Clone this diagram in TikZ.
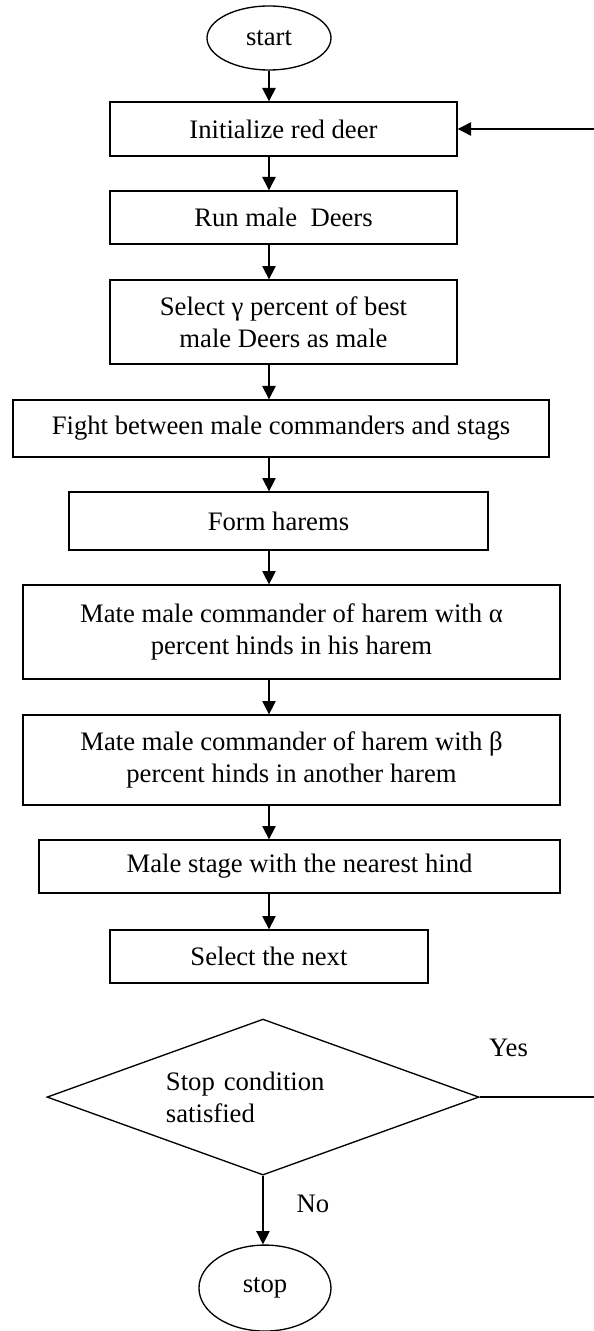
\documentclass[tikz,border=0pt]{standalone}
\usepackage{fontspec}
\setmainfont{Liberation Serif}
\usetikzlibrary{shapes,arrows.meta}
\tikzstyle{block} = [rectangle, draw, text centered, align=center,
    inner sep=2pt, minimum width=156.2pt, minimum height=24pt]
\tikzstyle{term} = [ellipse, draw, inner sep=0pt]
\tikzstyle{decision} = [diamond, draw, shape aspect=2.77, align=left,
    text width=87.3pt, inner sep=0pt, minimum width=194.4pt, minimum height=70.2pt]
\tikzstyle{line} = [draw, -{Triangle[length=6pt, width=6pt]}]

\begin{document}
\begin{tikzpicture}[node distance = 40pt, line width=0.6pt, font=\fontsize{12pt}{14.5pt}\selectfont]
\useasboundingbox (-121.05pt,17.1pt) rectangle (146.25pt,-581.85pt);
\node [term, minimum width=55.8pt, minimum height=28.8pt] (start) {start};
\node [block, below of=start, node distance=40.95pt, xshift=6.53pt, minimum height=24.3pt] (init) {Initialize red deer};
\node [block, below of=init, node distance=39.83pt, minimum height=23.9pt] (run) {Run male~ Deers};
\node [block, below of=run, node distance=47.03pt, minimum height=37.8pt] (sel) {Select γ percent of best\\male Deers as male};
\node [block, below of=sel, node distance=47.93pt, xshift=-1.13pt, minimum width=241.2pt, minimum height=25.7pt] (fight) {Fight between male commanders and stags};
\node [block, below of=fight, node distance=41.63pt, xshift=-1.13pt, minimum width=188.6pt, minimum height=26.1pt] (form) {Form harems};
\node [block, below of=form, node distance=49.95pt, xshift=5.85pt, minimum width=241.7pt, minimum height=42.3pt] (mateA) {Mate male commander of harem with α\\percent hinds in his harem};
\node [block, below of=mateA, node distance=57.6pt, minimum width=241.7pt, minimum height=40.5pt] (mateB) {Mate male commander of harem with β\\percent hinds in another harem};
\node [block, below of=mateB, node distance=47.93pt, xshift=3.6pt, minimum width=234.5pt, minimum height=23.9pt] (male) {Male stage with the nearest hind};
\node [block, below of=male, node distance=40.5pt, xshift=-13.73pt, minimum width=143.1pt, minimum height=23.9pt] (next) {Select the next};
\node [decision, below of=next, node distance=63.23pt, xshift=-2.7pt] (cond) {Stop condition\\satisfied};
\node [term, below of=cond, node distance=85.95pt, xshift=0.9pt, minimum width=59.4pt, minimum height=38.7pt] (stop) {stop};
\node [xshift=13pt, yshift=22pt] (yes) at (cond.east) {Yes};
\node [xshift=22.5pt, yshift=-12.6pt] (no) at (cond.south) {No};
\coordinate (axis) at (start.south);
\coordinate (back) at ([xshift=64pt]init.east);
\path [line] (start.south) -- (axis |- init.north);
\path [line] (axis |- init.south) -- (axis |- run.north);
\path [line] (axis |- run.south) -- (axis |- sel.north);
\path [line] (axis |- sel.south) -- (axis |- fight.north);
\path [line] (axis |- fight.south) -- (axis |- form.north);
\path [line] (axis |- form.south) -- (axis |- mateA.north);
\path [line] (axis |- mateA.south) -- (axis |- mateB.north);
\path [line] (axis |- mateB.south) -- (axis |- male.north);
\path [line] (axis |- male.south) -- (axis |- next.north);
\path [line] (cond.south) -- (cond.south |- stop.north);
\path [line] (cond.east) -- (cond.east -| back) |- (init.east);
\end{tikzpicture}
\end{document}
